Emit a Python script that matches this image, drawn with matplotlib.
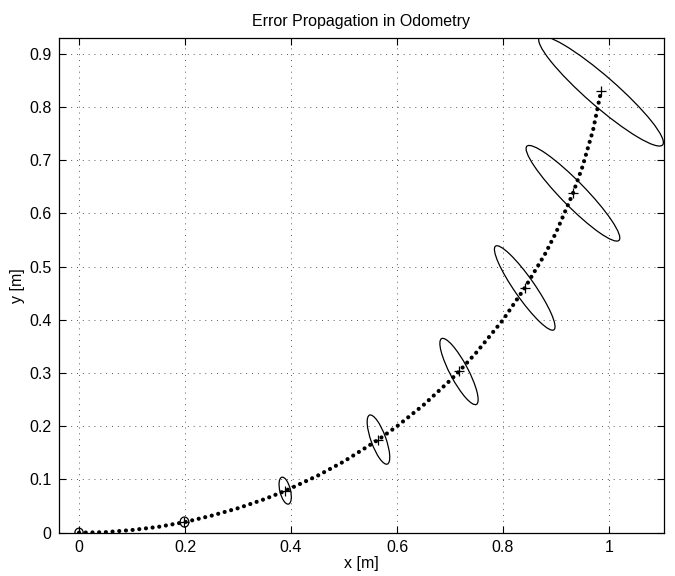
import numpy as np
import matplotlib
matplotlib.use("Agg")
import matplotlib.pyplot as plt
from matplotlib.patches import Ellipse

plt.rcParams['font.family'] = ['Liberation Sans', 'DejaVu Sans']

# robot path
path_x = [0.0, 0.05, 0.10, 0.15, 0.20, 0.25, 0.30, 0.35, 0.39, 0.45, 0.50, 0.565,
          0.60, 0.65, 0.70, 0.717, 0.75, 0.80, 0.841, 0.88, 0.90, 0.932, 0.95, 0.97, 0.985]
path_y = [0.0, 0.001, 0.005, 0.011, 0.020, 0.032, 0.046, 0.063, 0.079, 0.107, 0.134, 0.175,
          0.200, 0.240, 0.286, 0.303, 0.339, 0.400, 0.460, 0.525, 0.564, 0.638, 0.688, 0.757, 0.830]

# pose estimates with their error ellipses
pose_x = [0.0, 0.199, 0.389, 0.565, 0.717, 0.841, 0.932, 0.985]
pose_y = [0.0, 0.020, 0.079, 0.175, 0.303, 0.460, 0.638, 0.830]
semi_major = [0.0085, 0.0095, 0.026, 0.049, 0.070, 0.096, 0.124, 0.154]
semi_minor = [0.0078, 0.0082, 0.0100, 0.014, 0.017, 0.019, 0.023, 0.028]
ell_angle = [90, 95, 104, 110, 118, 125, 134.5, 139]

fig = plt.figure(figsize=(6.75, 5.76), dpi=100)
ax = fig.add_axes([0.0867, 0.0752, 0.897, 0.8583])

ax.plot(path_x, path_y, color='k', lw=3.0, linestyle=(0, (0.01, 1.6)),
        dash_capstyle='round', zorder=3)

for cx, cy, a, b, ang in zip(pose_x, pose_y, semi_major, semi_minor, ell_angle):
    ax.add_patch(Ellipse((cx, cy), 2 * a, 2 * b, angle=ang, fill=False,
                         edgecolor='k', lw=0.9, zorder=4))
ax.plot(pose_x, pose_y, '+', color='k', ms=7, mew=0.9, zorder=5)

ax.set_xlim(-0.0387, 1.1038)
ax.set_ylim(0, 0.9293)
ax.set_xticks([0, 0.2, 0.4, 0.6, 0.8, 1.0])
ax.set_xticklabels(['0', '0.2', '0.4', '0.6', '0.8', '1'])
ax.set_yticks(np.arange(10) / 10)
ax.set_yticklabels(['0'] + ['0.%d' % i for i in range(1, 10)])
ax.tick_params(direction='in', top=True, right=True, length=5, width=0.8,
               labelsize=11.5, pad=5)
ax.grid(True, color='0.35', linestyle=(0, (1, 5)), lw=0.7)
for s in ax.spines.values():
    s.set_linewidth(0.9)

ax.set_title('Error Propagation in Odometry', fontsize=11.5, pad=9)
ax.set_xlabel('x [m]', fontsize=11.5, labelpad=1)
ax.set_ylabel('y [m]', fontsize=11.5, labelpad=3)

fig.savefig('out.png', dpi=100)
